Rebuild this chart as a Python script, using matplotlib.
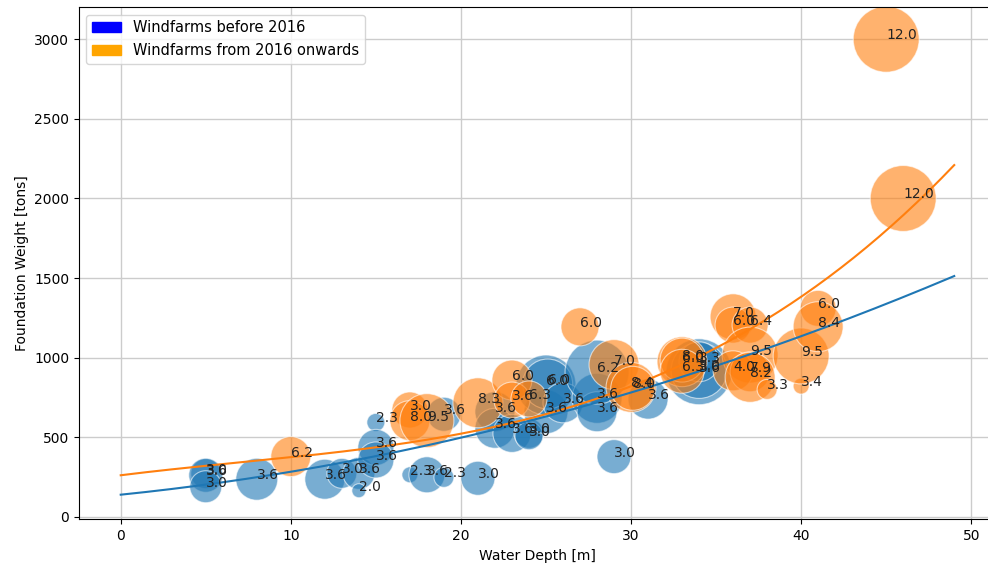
import numpy as np
import matplotlib
matplotlib.use("Agg")
import matplotlib.pyplot as plt
import matplotlib.patches as mpatches

# windfarms before 2016
old_depth = [5, 5, 5, 8, 12, 13, 14, 14, 15, 15, 15, 17, 18, 19, 21, 19,
             22, 22, 23, 24, 24, 25, 25, 25.1, 26, 28, 28, 28, 29, 31, 34, 34, 34]
old_weight = [272, 262, 190, 237, 237, 274, 274, 165, 594, 437, 358, 265, 265, 249, 243, 645,
              661, 557, 525, 525, 510, 661, 829, 835, 717, 745, 661, 910, 379, 740, 912, 920, 975]
old_rating = ["3.0", "3.6", "3.0", "3.6", "3.6", "3.0", "3.6", "2.0", "2.3", "3.6", "3.6", "2.3",
              "3.6", "2.3", "3.0", "3.6", "3.6", "3.6", "3.6", "3.0", "3.0", "3.6", "6.0", "6.0",
              "3.6", "3.6", "3.6", "6.2", "3.0", "3.6", "3.6", "3.0", "3.3"]
old_farm = [155, 200, 177, 304, 276, 155, 177, 34, 56, 224, 224, 44, 224, 69, 200, 200,
            276, 276, 250, 155, 135, 334, 620, 431, 276, 431, 276, 706, 200, 276, 751, 540, 276]

# windfarms from 2016 onwards
new_depth = [10, 17, 17, 18, 21, 23, 23, 24, 27, 29, 30, 30.1, 33, 33, 33,
             36, 36, 37, 37, 36, 37, 37, 38, 40, 40, 41, 41, 45, 46]
new_weight = [379, 672, 605, 605, 717, 860, 734, 741, 1194, 957, 814, 808, 975, 985, 915,
              1257, 1205, 1205, 1017, 918, 912, 877, 801, 822, 1011, 1310, 1195, 3000, 2000]
new_rating = ["6.2", "3.0", "8.0", "9.5", "8.3", "6.0", "3.6", "6.3", "6.0", "7.0", "8.4", "8.0",
              "6.0", "8.0", "6.3", "7.0", "6.0", "6.4", "9.5", "4.0", "7.9", "8.2", "3.3", "3.4",
              "9.5", "6.0", "8.4", "12.0", "12.0"]
new_farm = [276, 224, 276, 503, 431, 276, 224, 224, 250, 431, 431, 334, 431, 334, 334,
            365, 224, 224, 540, 276, 276, 431, 69, 44, 540, 224, 431, 751, 751]

# trend fits (polynomial coefficients, highest power first)
old_fit = [0.3492, 10.91, 140]
new_fit = [0.01912, -0.3986, 13.374, 262]
fit_depth_max = 49

fig = plt.figure(figsize=(9.88, 5.67), dpi=100)
ax = fig.add_axes([0.080, 0.084, 0.928, 0.903])

ax.scatter(old_depth, old_weight, s=np.array(old_farm) * 3, color="tab:blue",
           alpha=0.6, edgecolors="white", linewidths=0.8)
ax.scatter(new_depth, new_weight, s=np.array(new_farm) * 3, color="tab:orange",
           alpha=0.6, edgecolors="white", linewidths=0.8)

xs = np.linspace(0, fit_depth_max, 200)
ax.plot(xs, np.polyval(old_fit, xs), color="tab:blue", lw=1.5)
ax.plot(xs, np.polyval(new_fit, xs), color="tab:orange", lw=1.5)

for x, y, t in zip(old_depth, old_weight, old_rating):
    ax.text(x, y, t, fontsize=10, color="#222222")
for x, y, t in zip(new_depth, new_weight, new_rating):
    ax.text(x, y, t, fontsize=10, color="#222222")

ax.set_xlim(-2.45, 51.45)
ax.set_ylim(-15, 3200)
ax.set_xticks([0, 10, 20, 30, 40, 50])
ax.set_yticks([0, 500, 1000, 1500, 2000, 2500, 3000])
ax.grid(True, color="#cccccc", lw=1)
ax.set_axisbelow(True)
ax.set_xlabel("Water Depth [m]")
ax.set_ylabel("Foundation Weight [tons]")

handles = [mpatches.Patch(color="blue", label="Windfarms before 2016"),
           mpatches.Patch(color="orange", label="Windfarms from 2016 onwards")]
ax.legend(handles=handles, loc="upper left", fontsize=10.5)

fig.savefig("out.png", dpi=100)
